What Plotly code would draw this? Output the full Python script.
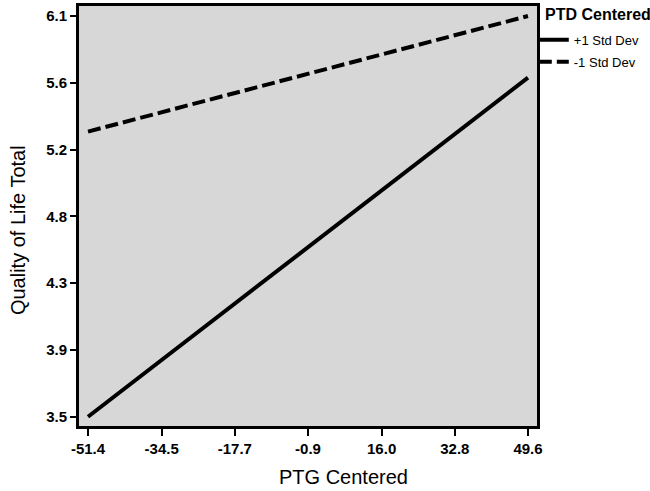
import plotly.graph_objects as go

x_vals = [-51.4, 49.6]
plus1_sd = [3.48, 5.68]
minus1_sd = [5.33, 6.08]

x_tickvals = [-51.4, -34.5, -17.7, -0.9, 16.0, 32.8, 49.6]
x_ticktext = ["-51.4", "-34.5", "-17.7", "-0.9", "16.0", "32.8", "49.6"]
y_tickvals = [3.48, 3.913, 4.347, 4.78, 5.213, 5.647, 6.08]
y_ticktext = ["3.5", "3.9", "4.3", "4.8", "5.2", "5.6", "6.1"]

fig = go.Figure()
fig.add_trace(go.Scatter(x=x_vals, y=plus1_sd, mode="lines", name="+1 Std Dev",
                         legendgroup="a",
                         line=dict(color="black", width=4, dash="solid")))
fig.add_trace(go.Scatter(x=x_vals, y=minus1_sd, mode="lines", name="-1 Std Dev",
                         legendgroup="b",
                         line=dict(color="black", width=4, dash="13px,5px")))

tickfont = dict(family="Liberation Sans, Arial", size=15, color="black", weight="bold")

fig.update_layout(
    width=650, height=491,
    margin=dict(l=79, r=113, t=6, b=65, autoexpand=False),
    paper_bgcolor="white",
    plot_bgcolor="#d7d7d7",
    font=dict(family="Liberation Sans, Arial", color="black"),
    showlegend=True,
    legend=dict(
        font=dict(size=13, family="Liberation Sans, Arial"),
        x=0.993, xanchor="left", y=0.955, yanchor="top",
        bgcolor="rgba(0,0,0,0)", tracegroupgap=2, itemwidth=30,
    ),
    xaxis=dict(
        range=[-53.47, 51.67], tickvals=x_tickvals, ticktext=x_ticktext,
        showgrid=False, zeroline=False, showline=True, mirror=True,
        linecolor="black", linewidth=3, ticks="outside", ticklen=7, tickwidth=2,
        tickcolor="black", tickfont=tickfont, automargin=False,
    ),
    yaxis=dict(
        range=[3.42, 6.145], tickvals=y_tickvals, ticktext=y_ticktext,
        showgrid=False, zeroline=False, showline=True, mirror=True,
        linecolor="black", linewidth=3, ticks="outside", ticklen=6, tickwidth=2,
        tickcolor="black", tickfont=tickfont, automargin=False,
    ),
    annotations=[
        dict(text="Quality of Life Total", xref="paper", yref="paper",
             x=-0.133, y=0.4667, xanchor="center", yanchor="middle",
             textangle=-90, showarrow=False,
             font=dict(size=20, family="Liberation Sans, Arial", color="black")),
        dict(text="PTG Centered", xref="paper", yref="paper",
             x=0.5786, y=-0.1214, xanchor="center", yanchor="middle",
             showarrow=False,
             font=dict(size=20, family="Liberation Sans, Arial", color="black")),
        dict(text="<b>PTD Centered</b>", xref="paper", yref="paper",
             x=1.013, y=0.979, xanchor="left", yanchor="middle",
             showarrow=False,
             font=dict(size=16, family="Liberation Sans, Arial", color="black")),
    ],
)

fig.write_html("out.html", config={"displayModeBar": False})

with open("out.html", "r", encoding="utf-8") as f:
    html = f.read()
html = html.replace("<body>", "<body style=\"margin:0;padding:0\">", 1)
with open("out.html", "w", encoding="utf-8") as f:
    f.write(html)
